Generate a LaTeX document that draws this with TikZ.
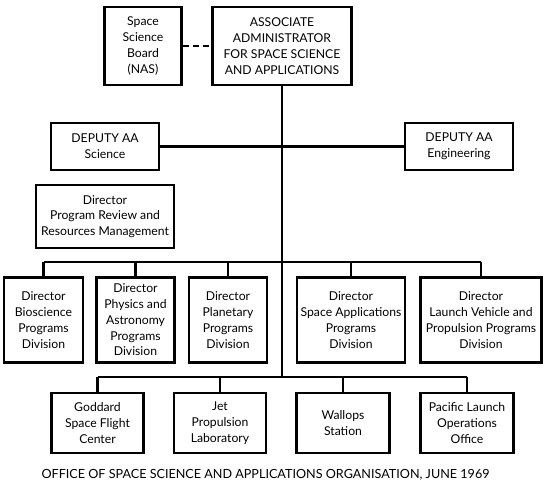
\documentclass[tikz,border=0pt]{standalone}
\usepackage{fontspec}
\setmainfont{Lato}
\begin{document}
\begin{tikzpicture}
    [x=1pt,y=-1pt,line width=2.3pt,
     every node/.style={align=center,inner sep=0pt,font=\fontsize{12.2}{15.8}\selectfont},
     unit/.style={draw,line width=2.3pt}]
    \useasboundingbox (0,0) rectangle (550,486);
    \node[unit,minimum width=77pt,minimum height=78pt] (ssb) at (143,46) {Space\\Science\\Board\\(NAS)};
    \node[unit,minimum width=139pt,minimum height=78pt] (aa) at (282,46) {ASSOCIATE\\ADMINISTRATOR\\FOR SPACE SCIENCE\\AND APPLICATIONS};
    \node[unit,minimum width=108pt,minimum height=47pt] (science) at (105,146.5) {DEPUTY AA\\Science};
    \node[unit,minimum width=108pt,minimum height=47pt] (engineering) at (459,146.5) {DEPUTY AA\\Engineering};
    \node[unit,minimum width=138pt,minimum height=63pt] (review) at (105,216.5) {Director\\Program Review and\\Resources Management};
    \node[unit,minimum width=79pt,minimum height=85pt] (bio) at (43.5,320) {Director\\Bioscience\\Programs\\Division};
    \node[unit,minimum width=78pt,minimum height=85pt] (physics) at (135.5,320) {Director\\Physics and\\Astronomy\\Programs\\Division};
    \node[unit,minimum width=78pt,minimum height=85pt] (planetary) at (228,320) {Director\\Planetary\\Programs\\Division};
    \node[unit,minimum width=108pt,minimum height=85pt] (applications) at (351,320) {Director\\Space Applications\\Programs\\Division};
    \node[unit,minimum width=121pt,minimum height=85pt] (launch) at (481,320) {Director\\Launch Vehicle and\\Propulsion Programs\\Division};
    \node[unit,minimum width=92pt,minimum height=60pt] (goddard) at (97.5,423) {Goddard\\Space Flight\\Center};
    \node[unit,minimum width=92pt,minimum height=60pt] (jpl) at (220,423) {Jet\\Propulsion\\Laboratory};
    \node[unit,minimum width=93pt,minimum height=60pt] (wallops) at (343,423) {Wallops\\Station};
    \node[unit,minimum width=93pt,minimum height=60pt] (pacific) at (467,423) {Pacific Launch\\Operations\\Office};
    \node[font=\fontsize{12.6}{15}\selectfont] (caption) at (265.5,475) {OFFICE OF SPACE SCIENCE AND APPLICATIONS ORGANISATION, JUNE 1969};
    \coordinate (divbus) at (282,262);
    \coordinate (fieldbus) at (282,377);
    % links
    \draw[dash pattern=on 6pt off 4pt,line width=2.6pt] (ssb) -- (aa);
    \draw (aa) -- (fieldbus);
    \draw (science) -- (engineering);
    \draw (bio.north |- divbus) -- (launch.north |- divbus);
    \foreach \d in {bio,physics,planetary,applications,launch}
      \draw (\d.north) -- (\d.north |- divbus);
    \draw (goddard.north |- fieldbus) -- (pacific.north |- fieldbus);
    \foreach \f in {goddard,jpl,wallops,pacific}
      \draw (\f.north) -- (\f.north |- fieldbus);
  \end{tikzpicture}
\end{document}
